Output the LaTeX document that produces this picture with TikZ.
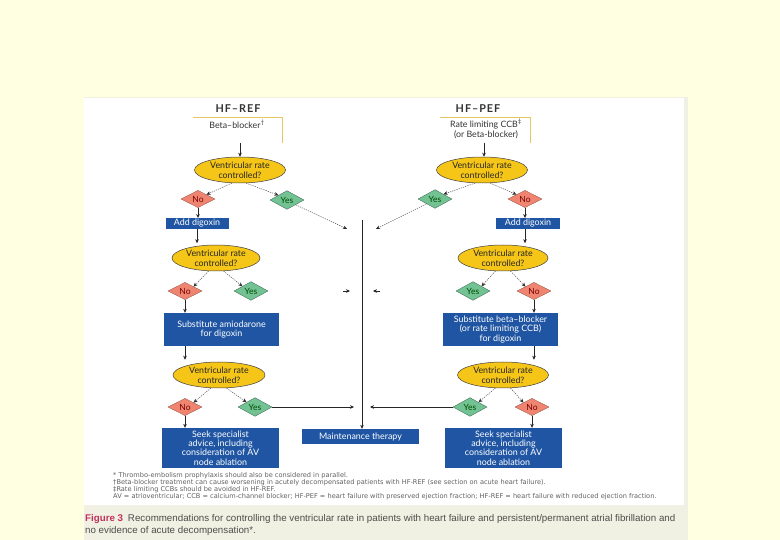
\documentclass[tikz,border=0pt]{standalone}
\usepackage{fontspec}
\setmainfont{Lato}
\newfontfamily\capfont{Liberation Sans}
\newfontfamily\footfont{DejaVu Sans}
\newfontfamily\ttlfont[LetterSpace=9]{Lato}
\usetikzlibrary{shapes.geometric,arrows.meta}
\definecolor{pageyellow}{HTML}{FFFFE2}
\definecolor{capband}{HTML}{F1F1E3}
\definecolor{gold}{HTML}{F5C518}
\definecolor{navy}{HTML}{1F55A3}
\definecolor{salmon}{HTML}{EF8570}
\definecolor{mint}{HTML}{72C293}
\definecolor{boxline}{HTML}{E6C766}
\definecolor{figred}{HTML}{C3305E}
\begin{document}
\begin{tikzpicture}[x=1pt,y=-1pt,
  ell/.style={ellipse, draw=black!75, line width=0.5pt, fill=gold, minimum width=91pt, minimum height=26pt, inner sep=0pt, align=center, font=\fontsize{8.8}{9.6}\selectfont, text=black!85},
  dno/.style={diamond, draw=salmon!60!black, line width=0.3pt, fill=salmon, minimum width=34pt, minimum height=15pt, inner sep=0pt, font=\fontsize{8.5}{9}\selectfont, text=red!45!black},
  dyes/.style={diamond, draw=mint!50!black, line width=0.3pt, fill=mint, minimum width=34pt, minimum height=15pt, inner sep=0pt, font=\fontsize{8.5}{9}\selectfont, text=green!30!black},
  act/.style={rectangle, fill=navy, text=white, inner sep=0pt, align=center, font=\fontsize{8.9}{9.3}\selectfont},
  ttl/.style={font=\ttlfont\fontsize{10.8}{12}\selectfont\bfseries, text=black!80},
  stxt/.style={align=center, font=\fontsize{8.8}{10}\selectfont, text=black!80, inner sep=0pt},
  yline/.style={draw=boxline, line width=0.8pt},
  arr/.style={-{Stealth[length=4pt,width=3.6pt]}, line width=0.5pt, draw=black!85},
  darr/.style={arr, line width=0.35pt, dash pattern=on 1.3pt off 1pt},
  foot/.style={anchor=west, inner sep=0pt, font=\footfont\fontsize{6.6}{7}\selectfont, text=black!62},
  capt/.style={anchor=west, inner sep=0pt, font=\capfont\fontsize{9.75}{11}\selectfont, text=black!70}
]
\useasboundingbox (0,0) rectangle (780,540);
\fill[pageyellow] (0,0) rectangle (780,540);
\fill[capband] (84,97) rectangle (688,540);
\fill[white] (84,98) rectangle (684,505);

% ---------------- left column HF-REF
\node[ttl] (tref) at (238,109) {HF–REF};
\node[stxt] (bb) at (237,124) {Beta–blocker\textsuperscript{†}};
\coordinate (bbnw) at (193,117);
\coordinate (bbne) at (282,117);
\coordinate (bbse) at (282,143);
\coordinate (bbs) at (240,143);
\draw[yline] (bbnw) -- (bbne) -- (bbse);

\node[ell] (e1) at (240,170) {Ventricular rate\\controlled?};
\node[dno] (no1) at (198,199) {No};
\node[dyes] (yes1) at (287,200) {Yes};
\node[act, minimum width=63pt, minimum height=10.5pt] (ad1) at (197,223.5) {Add digoxin};

\node[ell, minimum width=88pt] (e2) at (216,258) {Ventricular rate\\controlled?};
\node[dno] (no2) at (185,291) {No};
\node[dyes] (yes2) at (251,291) {Yes};
\node[act, minimum width=115pt, minimum height=33pt] (sub1) at (221.5,329.5) {Substitute amiodarone\\for digoxin};

\node[ell, minimum width=92pt] (e3) at (219,375) {Ventricular rate\\controlled?};
\node[dno] (no3) at (185,407) {No};
\node[dyes] (yes3) at (255,407) {Yes};
\node[act, minimum width=117pt, minimum height=40pt] (seek1) at (220.5,448) {Seek specialist\\advice, including\\consideration of AV\\node ablation};

% ---------------- right column HF-PEF
\node[ttl] (tpef) at (478,109) {HF–PEF};
\node[stxt] (rcb) at (486,129) {Rate limiting CCB\textsuperscript{‡}\\(or Beta-blocker)};
\coordinate (rcnw) at (440,117);
\coordinate (rcne) at (530,117);
\coordinate (rcse) at (530,143);
\coordinate (rcs) at (484,143);
\draw[yline] (rcnw) -- (rcne) -- (rcse);

\node[ell] (e4) at (482,170) {Ventricular rate\\controlled?};
\node[dyes] (yes4) at (435,199) {Yes};
\node[dno] (no4) at (525,199) {No};
\node[act, minimum width=64pt, minimum height=10.5pt] (ad2) at (528,223.5) {Add digoxin};

\node[ell, minimum width=90pt] (e5) at (503,258) {Ventricular rate\\controlled?};
\node[dyes] (yes5) at (473,291) {Yes};
\node[dno] (no5) at (534,291) {No};
\node[act, minimum width=115pt, minimum height=33pt] (sub2) at (500.5,329.5) {Substitute beta–blocker\\(or rate limiting CCB)\\for digoxin};

\node[ell] (e6) at (503,375) {Ventricular rate\\controlled?};
\node[dyes] (yes6) at (470,407) {Yes};
\node[dno] (no6) at (532,407) {No};
\node[act, minimum width=117pt, minimum height=40pt] (seek2) at (503.5,448) {Seek specialist\\advice, including\\consideration of AV\\node ablation};

% ---------------- centre
\node[act, minimum width=117pt, minimum height=15pt] (maint) at (360.5,436.5) {Maintenance therapy};
\coordinate (ctop) at (362,220);
\coordinate (cl1) at (347,229);
\coordinate (cr1) at (376,229);
\coordinate (cl2s) at (343,291);
\coordinate (cl2) at (350,291);
\coordinate (cr2s) at (380,291);
\coordinate (cr2) at (373,291);
\coordinate (cl3) at (354,407);
\coordinate (cr3) at (370,407);

% ---------------- connectors left
\draw[arr] (bbs) -- (bbs |- e1.north);
\draw[darr] (e1.238) -- (no1.north east);
\draw[darr] (e1.295) -- (yes1.north west);
\draw[arr] (no1.south) -- (no1.south |- ad1.north);
\draw[darr] (yes1.south east) -- (cl1);
\draw[arr] (ad1.south) -- ([yshift=1.5pt]ad1.south |- e2.north);
\draw[darr] (e2.240) -- (no2.north east);
\draw[darr] (e2.300) -- (yes2.north west);
\draw[arr] (cl2s) -- (cl2);
\draw[arr] (no2.south) -- (no2.south |- sub1.north);
\draw[arr] (no2.south |- sub1.south) -- ([yshift=2pt]no2.south |- e3.north);
\draw[darr] (e3.238) -- (no3.north east);
\draw[darr] (e3.300) -- (yes3.north west);
\draw[arr] (no3.south) -- (no3.south |- seek1.north);
\draw[arr] (yes3.east) -- (cl3);

% ---------------- connectors right
\draw[arr] (rcs) -- (rcs |- e4.north);
\draw[darr] (e4.242) -- (yes4.north east);
\draw[darr] (e4.302) -- (no4.north west);
\draw[arr] (no4.south) -- (no4.south |- ad2.north);
\draw[darr] (yes4.south west) -- (cr1);
\draw[arr] (no4.south |- ad2.south) -- ([yshift=1.5pt]no4.south |- e5.north);
\draw[darr] (e5.240) -- (yes5.north east);
\draw[darr] (e5.300) -- (no5.north west);
\draw[arr] (cr2s) -- (cr2);
\draw[arr] (no5.south) -- (no5.south |- sub2.north);
\draw[arr] (no5.south |- sub2.south) -- ([yshift=2pt]no5.south |- e6.north);
\draw[darr] (e6.240) -- (yes6.north east);
\draw[darr] (e6.300) -- (no6.north west);
\draw[arr] (no6.south) -- (no6.south |- seek2.north);
\draw[arr] (yes6.west) -- (cr3);

% ---------------- centre line
\draw[arr] (ctop) -- (ctop |- maint.north);

% ---------------- footnotes
\node[foot] (f1) at (113,476) {* Thrombo-embolism prophylaxis should also be considered in parallel.};
\node[foot] (f2) at (113,483) {†Beta-blocker treatment can cause worsening in acutely decompensated patients with HF-REF (see section on acute heart failure).};
\node[foot] (f3) at (113,490) {‡Rate limiting CCBs should be avoided in HF-REF.};
\node[foot] (f4) at (113,497) {AV = atrioventricular; CCB = calcium-channel blocker; HF-PEF = heart failure with preserved ejection fraction; HF-REF = heart failure with reduced ejection fraction.};

% ---------------- caption
\node[capt] (cap1) at (85,519) {{\bfseries\color{figred}Figure 3}\enspace Recommendations for controlling the ventricular rate in patients with heart failure and persistent/permanent atrial fibrillation and};
\node[capt] (cap2) at (85,531) {no evidence of acute decompensation*.};
\end{tikzpicture}
\end{document}
